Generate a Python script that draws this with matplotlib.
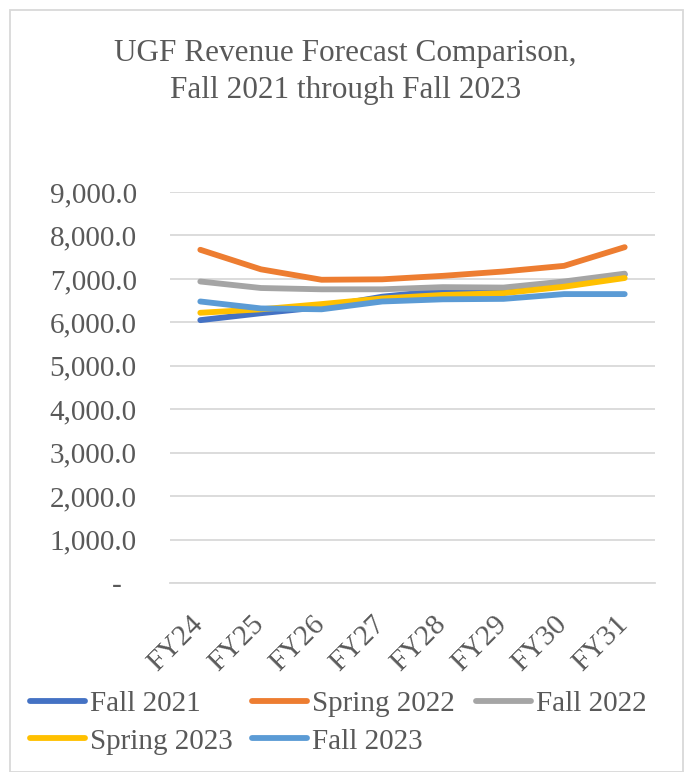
import matplotlib
matplotlib.use("Agg")
import matplotlib.pyplot as plt
from matplotlib.patches import Rectangle
from matplotlib.lines import Line2D
from matplotlib.transforms import ScaledTranslation

categories = ["FY24", "FY25", "FY26", "FY27", "FY28", "FY29", "FY30", "FY31"]
fall_2021 = [6050, 6210, 6350, 6590, 6730, 6750, 6880, 7100]
spring_2022 = [7670, 7220, 6980, 6990, 7070, 7170, 7300, 7730]
fall_2022 = [6940, 6790, 6760, 6760, 6810, 6800, 6940, 7120]
spring_2023 = [6220, 6300, 6420, 6550, 6630, 6670, 6820, 7020]
fall_2023 = [6480, 6320, 6300, 6480, 6530, 6540, 6650, 6650]
series_names = ["Fall 2021", "Spring 2022", "Fall 2022", "Spring 2023", "Fall 2023"]
colors = ["#4472C4", "#ED7D31", "#A5A5A5", "#FFC000", "#5B9BD5"]
ytick_vals = [0, 1000, 2000, 3000, 4000, 5000, 6000, 7000, 8000, 9000]

plt.rcParams['font.family'] = ['Liberation Serif', 'DejaVu Serif']
txt = "#595959"
FS = 21

W, H = 691, 772
fig = plt.figure(figsize=(W / 100, H / 100), dpi=100)
fig.patches.append(Rectangle((10 / W, 0), (683 - 10) / W, (H - 10) / H,
                             transform=fig.transFigure, fill=False,
                             edgecolor="#D9D9D9", linewidth=1.3))

ax = fig.add_axes([170 / W, 1 - 583 / H, (655 - 170) / W, (583 - 192) / H])
x = list(range(len(categories)))
data = [fall_2021, spring_2022, fall_2022, spring_2023, fall_2023]
for i, d in enumerate(data):
    ax.plot(x, d, color=colors[i], linewidth=4.2, solid_capstyle='round',
            solid_joinstyle='round', zorder=3 + i)

ax.set_xlim(-0.5, len(categories) - 0.5)
ax.set_ylim(0, 9000)
ax.set_yticks(ytick_vals)
ax.set_yticklabels([f"{v:,.1f}" if v else "-  " for v in ytick_vals])
ax.grid(axis='y', color="#D9D9D9", linewidth=1.3)
ax.set_axisbelow(True)
for s in ["top", "right", "left"]:
    ax.spines[s].set_visible(False)
ax.spines["bottom"].set_color("#D9D9D9")
ax.spines["bottom"].set_linewidth(1.3)
ax.tick_params(axis='both', length=0, labelsize=FS, colors=txt)
ax.tick_params(axis='y', pad=24)
ax.tick_params(axis='x', pad=16)
ax.set_xticks(x)
ax.set_xticklabels(categories, rotation=45, ha='right', va='top', rotation_mode='anchor')
shift = ScaledTranslation(-10 / 100, -6 / 100, fig.dpi_scale_trans)
for lbl in ax.get_xticklabels():
    lbl.set_transform(lbl.get_transform() + shift)

fig.text(0.5, 1 - 72 / H, "UGF Revenue Forecast Comparison,\nFall 2021 through Fall 2023",
         ha='center', va='center', fontsize=22.5, color=txt, linespacing=1.35)

handles = [Line2D([0], [0], color=c, linewidth=4.2, solid_capstyle='round') for c in colors]
columns = [[0, 3], [1, 4], [2]]
col_x = [30, 252, 476]
for cols, cx in zip(columns, col_x):
    leg = fig.legend([handles[i] for i in cols], [series_names[i] for i in cols],
                     loc='upper left', bbox_to_anchor=(cx / W, 1 - 691 / H),
                     frameon=False, fontsize=FS, handlelength=1.9, handletextpad=0.17,
                     labelspacing=0.37, borderaxespad=0, borderpad=0)
    for t in leg.get_texts():
        t.set_color(txt)

fig.savefig("out.png", dpi=100)
